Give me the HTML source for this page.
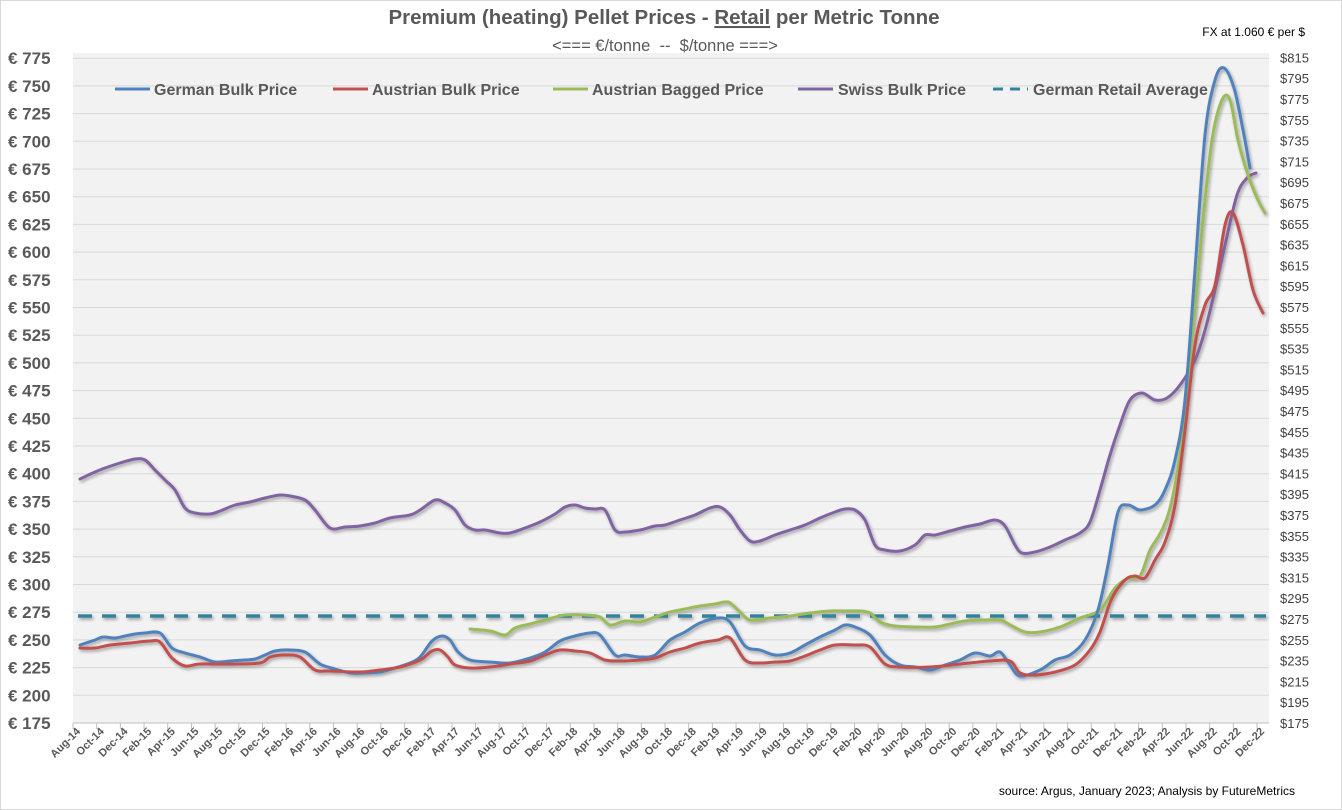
<!DOCTYPE html>
<html><head><meta charset="utf-8"><style>
html,body{margin:0;padding:0;background:#fff}
svg{display:block;font-family:"Liberation Sans",sans-serif}
</style></head><body>
<svg id="c" width="1342" height="810" xmlns="http://www.w3.org/2000/svg">
<defs><filter id="sh" x="-5%" y="-5%" width="110%" height="110%"><feGaussianBlur in="SourceAlpha" stdDeviation="1.5"/><feOffset dx="1.5" dy="2" result="b"/><feComponentTransfer><feFuncA type="linear" slope="0.35"/></feComponentTransfer><feMerge><feMergeNode/><feMergeNode in="SourceGraphic"/></feMerge></filter></defs>
<rect x="0.5" y="0.5" width="1341" height="809" fill="#fff" stroke="#d9d9d9"/>
<rect x="73" y="53" width="1196" height="670" fill="#f2f2f2"/>
<g id="grid"></g>
<text x="664" y="24" text-anchor="middle" font-size="20.5" font-weight="bold" fill="#595959">Premium (heating)  Pellet Prices - <tspan text-decoration="underline">Retail</tspan> per Metric Tonne</text>
<text x="665" y="51" text-anchor="middle" font-size="16.5" fill="#595959" style="white-space:pre" xml:space="preserve">&lt;=== €/tonne  --  $/tonne ===&gt;</text>
<text x="1305" y="36" text-anchor="end" font-size="12" fill="#000">FX at 1.060 € per $</text>
<text x="1295" y="795" text-anchor="end" font-size="12" fill="#000">source:  Argus, January 2023; Analysis by FutureMetrics</text>
<g font-size="16" font-weight="bold" fill="#595959">
<line x1="115" y1="89" x2="150" y2="89" stroke="#4f81bd" stroke-width="3"/><text x="154" y="95">German Bulk Price</text>
<line x1="333" y1="89" x2="368" y2="89" stroke="#c0504d" stroke-width="3"/><text x="372" y="95">Austrian Bulk Price</text>
<line x1="553" y1="89" x2="588" y2="89" stroke="#9bbb59" stroke-width="3"/><text x="592" y="95">Austrian Bagged Price</text>
<line x1="798" y1="89" x2="833" y2="89" stroke="#8064a2" stroke-width="3"/><text x="838" y="95">Swiss Bulk Price</text>
<line x1="993" y1="89" x2="1028" y2="89" stroke="#31849b" stroke-width="3" stroke-dasharray="10,7"/><text x="1033" y="95">German Retail Average</text>
</g>
<g id="series" filter="url(#sh)"></g>
</svg>
<script>
var NS="http://www.w3.org/2000/svg",svg=document.getElementById('c');
function el(t,a,p,txt){var e=document.createElementNS(NS,t);for(var k in a)e.setAttribute(k,a[k]);if(txt!=null)e.textContent=txt;(p||svg).appendChild(e);return e;}
var g=document.getElementById('grid');
for(var i=0;i<=24;i++){var y=723-i*27.7;
 if(i>0)el('line',{x1:73,x2:1269,y1:y,y2:y,stroke:'#d9d9d9','stroke-width':1},g);
 el('text',{x:8,y:y+6,'font-size':17,'font-weight':'bold',fill:'#595959'},g,'€ '+(175+25*i));}
for(var i=0;i<=32;i++){var y=723-i*20.8;
 el('text',{x:1280,y:y+5,'font-size':13,fill:'#404040'},g,'$'+(175+20*i));}
el('line',{x1:73,x2:1269,y1:723,y2:723,stroke:'#bfbfbf'},g);
var names=['Jan','Feb','Mar','Apr','May','Jun','Jul','Aug','Sep','Oct','Nov','Dec'];
for(var k=0;k<=50;k++){var x=73+23.68*k;
 el('line',{x1:x,x2:x,y1:723,y2:729,stroke:'#bfbfbf'},g);
 var m=(7+2*k)%12, yr=14+Math.floor((7+2*k)/12);
 el('text',{x:x+8,y:732,'font-size':11,'font-weight':'bold',fill:'#595959','text-anchor':'end',transform:'rotate(-45 '+(x+8)+' 732)'},g,names[m]+'-'+yr);}
function path(pts){var d='M'+pts[0][0]+','+pts[0][1];
 for(var i=0;i<pts.length-1;i++){var p0=pts[i-1]||pts[i],p1=pts[i],p2=pts[i+1],p3=pts[i+2]||p2;
  var c1=[p1[0]+(p2[0]-p0[0])/6,p1[1]+(p2[1]-p0[1])/6],c2=[p2[0]-(p3[0]-p1[0])/6,p2[1]-(p3[1]-p1[1])/6];
  d+=' C'+c1[0].toFixed(1)+','+c1[1].toFixed(1)+' '+c2[0].toFixed(1)+','+c2[1].toFixed(1)+' '+p2[0]+','+p2[1];}
 return d;}
var S=document.getElementById('series');
el('line',{x1:78,x2:1266,y1:616,y2:616,stroke:'#31849b','stroke-width':3.5,'stroke-dasharray':'14,10'},S);
var purple=[[80,479],[95,472],[105,468],[120,463],[135,459],[145,460],[155,470],[165,480],[175,490],[185,508],[195,513],[210,514],[220,511],[235,505],[250,502],[265,498],[280,495],[290,496],[305,500],[315,510],[330,528],[345,527],[360,526],[375,523],[390,518],[410,515],[420,510],[435,500],[445,503],[455,510],[465,525],[475,530],[485,530],[500,533],[510,533],[525,528],[540,522],[555,514],[565,507],[575,505],[585,508],[595,509],[605,510],[615,530],[625,532],[640,530],[655,526],[665,525],[680,520],[695,515],[710,508],[720,507],[730,515],[740,530],[750,541],[760,541],[775,535],[790,530],[805,525],[820,518],[835,512],[845,509],[855,510],[865,520],[875,545],[885,550],[900,551],[915,545],[925,535],[935,535],[950,531],[965,527],[980,524],[995,520],[1005,526],[1015,545],[1022,553],[1035,552],[1050,547],[1065,540],[1080,533],[1090,522],[1100,490],[1110,455],[1120,425],[1130,400],[1142,393],[1155,400],[1167,398],[1180,385],[1195,360],[1205,330],[1215,290],[1225,245],[1237,195],[1247,178],[1256,173]];
var green=[[470,629],[490,631],[505,635],[515,628],[530,624],[545,620],[565,615],[585,615],[600,617],[610,625],[625,621],[640,622],[655,617],[670,612],[685,609],[700,606],[715,604],[728,602],[738,610],[750,620],[770,618],[790,616],[810,613],[830,611],[845,611],[860,611],[870,613],[880,622],[895,626],[915,627],[935,627],[950,624],[965,621],[985,620],[1000,620],[1012,626],[1025,632],[1040,632],[1060,627],[1080,618],[1100,610],[1115,588],[1127,579],[1140,576],[1150,550],[1162,530],[1172,500],[1182,440],[1192,340],[1202,230],[1212,140],[1222,100],[1230,100],[1238,140],[1248,175],[1258,200],[1265,213]];
var blue=[[80,645],[95,640],[103,637],[115,638],[125,636],[135,634],[145,633],[160,633],[172,648],[185,653],[200,657],[215,662],[230,661],[245,660],[255,659],[265,655],[275,651],[290,650],[305,652],[320,664],[335,669],[350,673],[365,673],[380,672],[395,668],[410,663],[420,657],[432,641],[442,636],[450,640],[458,652],[470,660],[490,662],[510,663],[530,658],[545,652],[560,641],[575,636],[590,633],[600,635],[615,655],[625,655],[640,657],[655,655],[670,640],[685,632],[700,623],[718,618],[730,622],[745,646],[760,650],[775,655],[790,653],[805,645],[820,637],[835,630],[845,625],[855,627],[870,635],[885,655],[900,665],[915,667],[930,670],[945,665],[960,660],[975,653],[990,656],[1000,652],[1010,665],[1020,676],[1040,670],[1055,660],[1070,655],[1085,640],[1098,610],[1108,565],[1118,512],[1128,505],[1140,510],[1155,505],[1165,490],[1175,460],[1185,400],[1195,270],[1205,135],[1215,80],[1224,68],[1234,88],[1243,130],[1250,168]];
var red=[[80,648],[95,648],[110,645],[130,643],[150,641],[160,642],[172,658],[185,666],[200,664],[230,664],[260,663],[270,657],[285,655],[300,657],[315,670],[330,671],[360,672],[380,670],[400,667],[420,660],[432,651],[440,650],[448,657],[455,665],[470,668],[490,667],[510,664],[530,661],[545,655],[560,650],[575,651],[590,653],[605,660],[620,661],[640,660],[655,658],[670,652],[685,648],[700,643],[718,640],[730,638],[745,660],[760,663],[775,662],[790,661],[805,656],[820,650],[835,645],[855,645],[870,647],[885,664],[900,667],[930,667],[960,664],[990,661],[1010,661],[1020,673],[1035,675],[1055,672],[1075,665],[1090,650],[1100,632],[1112,598],[1125,580],[1135,576],[1145,578],[1155,560],[1165,542],[1175,505],[1185,430],[1195,345],[1205,305],[1215,285],[1225,225],[1233,213],[1243,245],[1253,290],[1263,313]];
[[purple,'#8064a2'],[green,'#9bbb59'],[blue,'#4f81bd'],[red,'#c0504d']].forEach(function(s){
 el('path',{d:path(s[0]),fill:'none',stroke:s[1],'stroke-width':3,'stroke-linejoin':'round','stroke-linecap':'round'},S);});
</script>
</body></html>
